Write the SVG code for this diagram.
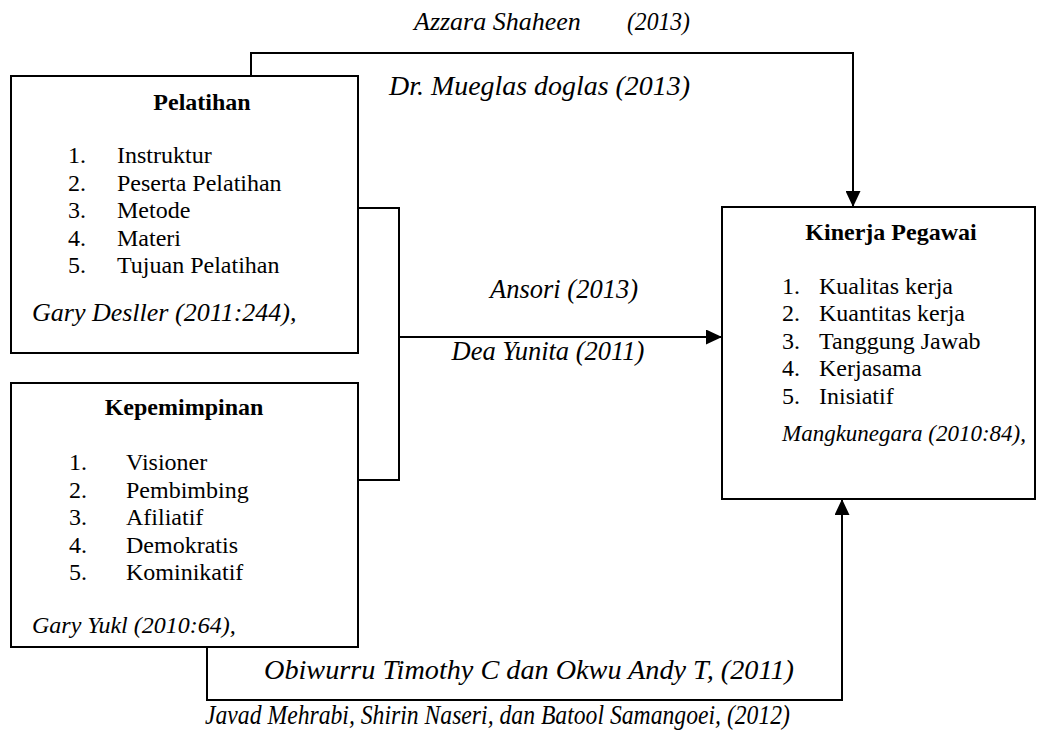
<svg xmlns="http://www.w3.org/2000/svg" width="1051" height="735" viewBox="0 0 1051 735" font-family="'Liberation Serif', 'DejaVu Serif', serif">
<style>
text{font-family:'Liberation Serif','DejaVu Serif',serif;fill:#000}
.t{font-weight:bold;font-size:24px;text-anchor:middle}
.li{font-size:24px}
.ci{font-style:italic;font-size:24px}
.lb{font-style:italic;font-size:26.5px;white-space:pre}
.box{fill:#fff;stroke:#000;stroke-width:2}
.ln{fill:none;stroke:#000;stroke-width:2}
</style>
<defs>
<marker id="ah" markerUnits="userSpaceOnUse" markerWidth="16" markerHeight="15" refX="16" refY="7.5" orient="auto">
<path d="M0,0 L16,7.5 L0,15 z" fill="#000"/>
</marker>
</defs>
<rect width="1051" height="735" fill="#fff"/>
<g id="connectors">
<path class="ln" d="M251,76 V53 H853 V207" marker-end="url(#ah)"/>
<path class="ln" d="M358,208 H399 V480 H358"/>
<path class="ln" d="M399,337 H722" marker-end="url(#ah)"/>
<path class="ln" d="M207,647 V700 H842 V499" marker-end="url(#ah)"/>
</g>
<g id="pelatihan">
<rect class="box" x="11" y="76" width="347" height="277"/>
<text class="t" x="202" y="110">Pelatihan</text>
<text class="li" x="68" y="163">1.</text><text class="li" x="117" y="163">Instruktur</text>
<text class="li" x="68" y="190.5">2.</text><text class="li" x="117" y="190.5">Peserta Pelatihan</text>
<text class="li" x="68" y="218">3.</text><text class="li" x="117" y="218">Metode</text>
<text class="li" x="68" y="245.5">4.</text><text class="li" x="117" y="245.5">Materi</text>
<text class="li" x="68" y="273">5.</text><text class="li" x="117" y="273">Tujuan Pelatihan</text>
<text class="ci" x="32" y="321" style="font-size:26px">Gary Desller (2011:244),</text>
</g>
<g id="kepemimpinan">
<rect class="box" x="11" y="383" width="347" height="264"/>
<text class="t" x="184" y="415">Kepemimpinan</text>
<text class="li" x="69" y="470">1.</text><text class="li" x="126" y="470">Visioner</text>
<text class="li" x="69" y="497.5">2.</text><text class="li" x="126" y="497.5">Pembimbing</text>
<text class="li" x="69" y="525">3.</text><text class="li" x="126" y="525">Afiliatif</text>
<text class="li" x="69" y="552.5">4.</text><text class="li" x="126" y="552.5">Demokratis</text>
<text class="li" x="69" y="580">5.</text><text class="li" x="126" y="580">Kominikatif</text>
<text class="ci" x="32" y="633">Gary Yukl (2010:64),</text>
</g>
<g id="kinerja">
<rect class="box" x="722" y="207" width="313" height="292"/>
<text class="t" x="891" y="240">Kinerja Pegawai</text>
<text class="li" x="782" y="293.5">1.</text><text class="li" x="819" y="293.5">Kualitas kerja</text>
<text class="li" x="782" y="321">2.</text><text class="li" x="819" y="321">Kuantitas kerja</text>
<text class="li" x="782" y="348.5">3.</text><text class="li" x="819" y="348.5">Tanggung Jawab</text>
<text class="li" x="782" y="376">4.</text><text class="li" x="819" y="376">Kerjasama</text>
<text class="li" x="782" y="403.5">5.</text><text class="li" x="819" y="403.5">Inisiatif</text>
<text class="ci" x="782" y="441" style="font-size:23px">Mangkunegara (2010:84),</text>
</g>
<g id="labels">
<text class="lb" x="414" y="30" style="font-size:26px">Azzara Shaheen<tspan x="627" textLength="63" lengthAdjust="spacingAndGlyphs">(2013)</tspan></text>
<text class="lb" x="389" y="95" textLength="301" lengthAdjust="spacingAndGlyphs">Dr. Mueglas doglas (2013)</text>
<text class="lb" x="564" y="298" text-anchor="middle">Ansori (2013)</text>
<text class="lb" x="548" y="360" text-anchor="middle">Dea Yunita (2011)</text>
<text class="lb" x="264" y="679" textLength="530" lengthAdjust="spacingAndGlyphs">Obiwurru Timothy C dan Okwu Andy T, (2011)</text>
<text class="lb" x="205" y="724" textLength="585" lengthAdjust="spacingAndGlyphs">Javad Mehrabi, Shirin Naseri, dan Batool Samangoei, (2012)</text>
</g>
</svg>
